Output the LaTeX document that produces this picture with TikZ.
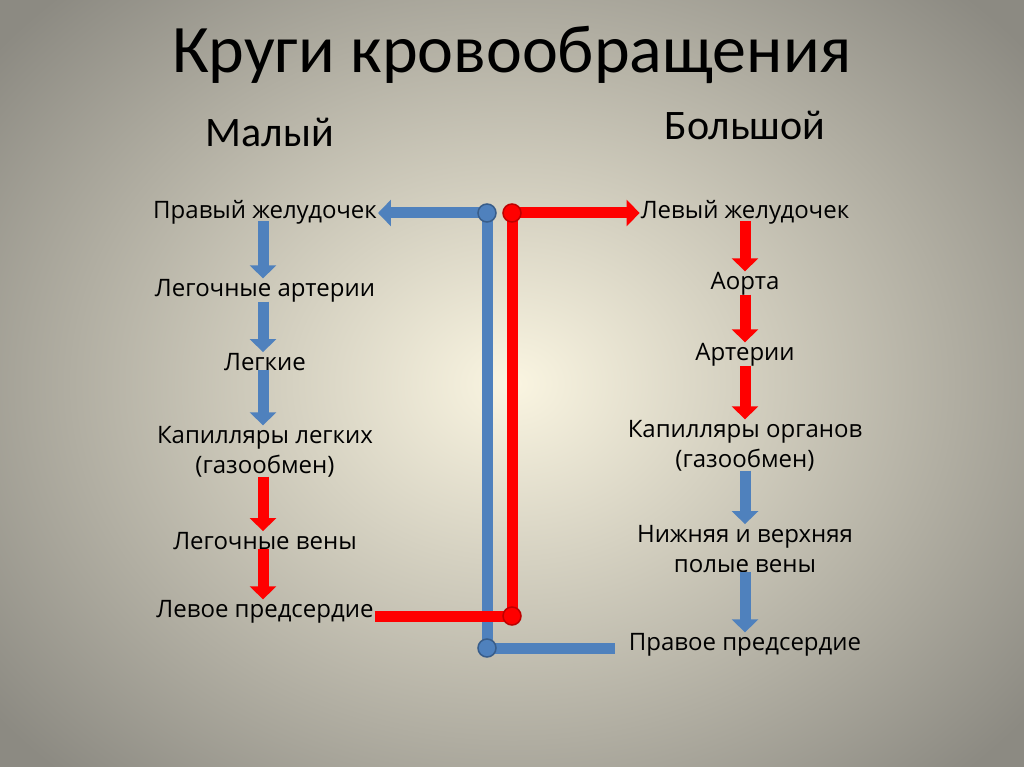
\documentclass[tikz,border=0pt]{standalone}
\usepackage{fontspec}
\setmainfont{Open Sans}
\newfontfamily\titlefont{Carlito}
\usetikzlibrary{arrows.meta}
\definecolor{bl}{RGB}{79,129,189}
\definecolor{rd}{RGB}{255,0,0}
\begin{document}
\begin{tikzpicture}[x=1pt,y=-1pt,
  lbl/.style={font=\fontsize{24}{30}\selectfont, align=center, inner sep=1pt},
  hdr/.style={font=\titlefont\fontsize{42}{48}\selectfont},
  barr/.style={line width=11pt, -{Triangle[width=26pt,length=13pt]}},
  pipe/.style={line width=11pt},
  dot/.style={circle, minimum size=18pt, inner sep=0pt}]
\useasboundingbox (0,0) rectangle (1024,767);
\begin{scope}
\clip (0,0) rectangle (1024,767);
\shade[inner color={rgb,255:red,250;green,245;blue,225}, outer color={rgb,255:red,140;green,138;blue,130}] (-150,-150) rectangle (1174,917);
\end{scope}
\node[font=\titlefont\fontsize{68}{74}\selectfont] (title) at (512,55) {Круги кровообращения};
\node[hdr] (small) at (270,132) {Малый};
\node[hdr] (big) at (745,125) {Большой};
% left column
\node[lbl] (l1) at (265,212) {Правый желудочек};
\node[lbl] (l2) at (265,291) {Легочные артерии};
\node[lbl] (l3) at (265,362) {Легкие};
\node[lbl] (l4) at (265,452) {Капилляры легких\\(газообмен)};
\node[lbl] (l5) at (265,541) {Легочные вены};
\node[lbl] (l6) at (265,612) {Левое предсердие};
% right column
\node[lbl] (r1) at (745,212) {Левый желудочек};
\node[lbl] (r2) at (745,284) {Аорта};
\node[lbl] (r3) at (745,355) {Артерии};
\node[lbl] (r4) at (745,446) {Капилляры органов\\(газообмен)};
\node[lbl] (r5) at (745,549) {Нижняя и верхняя\\полые вены};
\node[lbl] (r6) at (745,645) {Правое предсердие};
% vertical arrows
\draw[barr,bl] ([xshift=-2pt,yshift=4pt]l1.south) -- ([xshift=-2pt,yshift=0pt]l2.north);
\draw[barr,bl] ([xshift=-2pt,yshift=2pt]l2.south) -- ([xshift=-2pt,yshift=0pt]l3.north);
\draw[barr,bl] ([xshift=-2pt,yshift=2pt]l3.south) -- ([xshift=-2pt,yshift=0pt]l4.north);
\draw[barr,rd] ([xshift=-2pt,yshift=2pt]l4.south) -- ([xshift=-2pt,yshift=0pt]l5.north);
\draw[barr,rd] ([xshift=-2pt,yshift=2pt]l5.south) -- ([xshift=-2pt,yshift=0pt]l6.north);
\draw[barr,rd] ([yshift=4pt]r1.south) -- ([yshift=0pt]r2.north);
\draw[barr,rd] ([yshift=2pt]r2.south) -- ([yshift=0pt]r3.north);
\draw[barr,rd] ([yshift=2pt]r3.south) -- ([yshift=0pt]r4.north);
\draw[barr,bl] ([yshift=2pt]r4.south) -- ([yshift=0pt]r5.north);
\draw[barr,bl] ([yshift=2pt]r5.south) -- ([yshift=0pt]r6.north);
% junctions
\coordinate (bt) at (487,213);
\coordinate (bb) at (487,648);
\coordinate (be) at (615,648);
\coordinate (rt) at (512,213);
\coordinate (rb) at (512,616);
% blue circuit
\draw[pipe,bl] (bb) -- (bt);
\draw[barr,bl] (bt) -- (l1.east |- bt);
\draw[pipe,bl] (bb) -- (be);
% red circuit
\draw[pipe,rd] (rb) -- (rt);
\draw[barr,rd] (rt) -- (r1.west |- rt);
\draw[pipe,rd] (l6.east |- rb) -- (rb);
\node[dot,fill=bl,draw={rgb,255:red,56;green,93;blue,138},line width=1.5pt] (dbt) at (bt) {};
\node[dot,fill=bl,draw={rgb,255:red,56;green,93;blue,138},line width=1.5pt] (dbb) at (bb) {};
\node[dot,fill=rd,draw={rgb,255:red,190;green,0;blue,0},line width=1.5pt] (drt) at (rt) {};
\node[dot,fill=rd,draw={rgb,255:red,190;green,0;blue,0},line width=1.5pt] (drb) at (rb) {};
\end{tikzpicture}
\end{document}
